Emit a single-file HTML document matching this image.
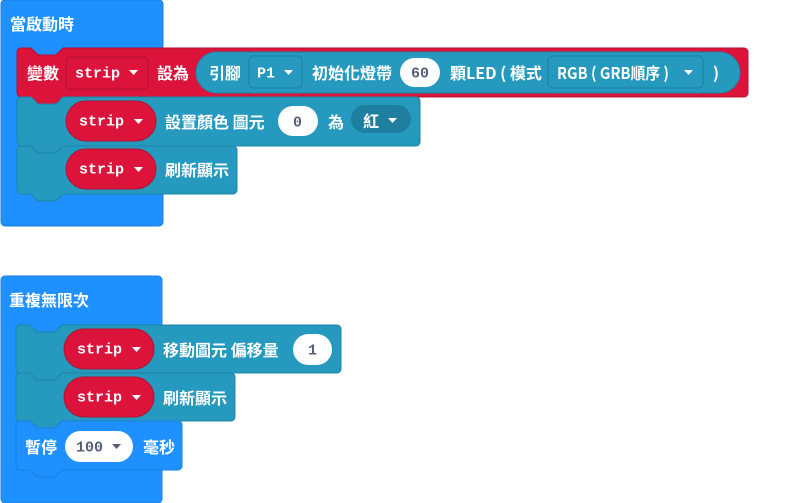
<!DOCTYPE html>
<html><head><meta charset="utf-8"><style>
html,body{margin:0;padding:0;background:#fff;}
svg{display:block}
text{font-family:"Noto Sans CJK TC","Liberation Sans",sans-serif;font-weight:bold;font-size:16px;fill:#fff;dominant-baseline:central}
.m{font-family:"Liberation Mono","Noto Sans CJK TC",monospace;font-size:15px}
.d{fill:#575e75}
</style></head><body>
<svg width="800" height="503" viewBox="0 0 800 503" xmlns="http://www.w3.org/2000/svg">
<rect x="1" y="0" width="162" height="226" rx="4" fill="#1e90ff" stroke="#1a7fe0"/>
<text x="10" y="23">當啟動時</text>
<path d="M17,52 a4,4 0 0 1 4,-4 H31 l7,7 h18 l7,-7 H744 a4,4 0 0 1 4,4 V93 a4,4 0 0 1 -4,4 H63 l-7,7 h-18 l-7,-7 H21 a4,4 0 0 1 -4,-4 Z" fill="#dc143c" stroke="#b3102f"/>
<text x="27" y="72">變數</text>
<rect x="66" y="57" width="82" height="32" rx="4" fill="#dc143c" stroke="#b3102f"/>
<text x="75" y="74" class="m">strip</text>
<path d="M129,70 h9 l-4.5,5 z" fill="#fff"/>
<text x="157" y="72">設為</text>
<rect x="196" y="52" width="544" height="41" rx="20.5" fill="#2699bf" stroke="#1f84a6"/>
<text x="209" y="72">引腳</text>
<rect x="249" y="56" width="53" height="32" rx="4" fill="#2699bf" stroke="#1e7ea0"/>
<text x="257" y="74" class="m">P1</text>
<path d="M284,70 h9 l-4.5,5 z" fill="#fff"/>
<text x="312" y="72">初始化燈帶</text>
<rect x="400" y="58" width="40" height="29" rx="14.5" fill="#fff"/>
<text x="411" y="74" class="m d">60</text>
<text x="450" y="72">顆LED ( 模式</text>
<rect x="548" y="56" width="155" height="32" rx="4" fill="#2699bf" stroke="#1e7ea0"/>
<text x="557" y="72" textLength="112" lengthAdjust="spacingAndGlyphs">RGB ( GRB順序 )</text>
<path d="M684,70 h9 l-4.5,5 z" fill="#fff"/>
<text x="713" y="72">)</text>
<path d="M17,101 a4,4 0 0 1 4,-4 H31 l7,7 h18 l7,-7 H416 a4,4 0 0 1 4,4 V142 a4,4 0 0 1 -4,4 H63 l-7,7 h-18 l-7,-7 H21 a4,4 0 0 1 -4,-4 Z" fill="#2699bf" stroke="#1f84a6"/>
<rect x="66" y="101" width="90" height="40" rx="20" fill="#dc143c" stroke="#b3102f"/>
<text x="79" y="122" class="m">strip</text>
<path d="M134,119 h9 l-4.5,5 z" fill="#fff"/>
<text x="165" y="121">設置顏色 圖元</text>
<rect x="278" y="106" width="40" height="30" rx="15" fill="#fff"/>
<text x="293" y="123" class="m d">0</text>
<text x="328" y="121">為</text>
<rect x="351" y="105" width="60" height="28" rx="14" fill="#1f7fa0"/>
<text x="363" y="120">紅</text>
<path d="M388,118 h9 l-4.5,5 z" fill="#fff"/>
<path d="M17,150 a4,4 0 0 1 4,-4 H31 l7,7 h18 l7,-7 H233 a4,4 0 0 1 4,4 V190 a4,4 0 0 1 -4,4 H63 l-7,7 h-18 l-7,-7 H21 a4,4 0 0 1 -4,-4 Z" fill="#2699bf" stroke="#1f84a6"/>
<rect x="66" y="149" width="90" height="40" rx="20" fill="#dc143c" stroke="#b3102f"/>
<text x="79" y="170" class="m">strip</text>
<path d="M134,167 h9 l-4.5,5 z" fill="#fff"/>
<text x="165" y="169">刷新顯示</text>

<rect x="1" y="276" width="161" height="227" rx="4" fill="#1e90ff" stroke="#1a7fe0"/>
<text x="9" y="299">重複無限次</text>
<path d="M16,329 a4,4 0 0 1 4,-4 H30 l7,7 h18 l7,-7 H337 a4,4 0 0 1 4,4 V369 a4,4 0 0 1 -4,4 H62 l-7,7 h-18 l-7,-7 H20 a4,4 0 0 1 -4,-4 Z" fill="#2699bf" stroke="#1f84a6"/>
<rect x="64" y="329" width="90" height="40" rx="20" fill="#dc143c" stroke="#b3102f"/>
<text x="77" y="350" class="m">strip</text>
<path d="M132,347 h9 l-4.5,5 z" fill="#fff"/>
<text x="163" y="349">移動圖元 偏移量</text>
<rect x="293" y="334" width="39" height="31" rx="15.5" fill="#fff"/>
<text x="308" y="351" class="m d">1</text>
<path d="M16,377 a4,4 0 0 1 4,-4 H30 l7,7 h18 l7,-7 H231 a4,4 0 0 1 4,4 V417 a4,4 0 0 1 -4,4 H62 l-7,7 h-18 l-7,-7 H20 a4,4 0 0 1 -4,-4 Z" fill="#2699bf" stroke="#1f84a6"/>
<rect x="64" y="377" width="90" height="40" rx="20" fill="#dc143c" stroke="#b3102f"/>
<text x="77" y="398" class="m">strip</text>
<path d="M132,395 h9 l-4.5,5 z" fill="#fff"/>
<text x="163" y="397">刷新顯示</text>
<path d="M16,425 a4,4 0 0 1 4,-4 H30 l7,7 h18 l7,-7 H178 a4,4 0 0 1 4,4 V466 a4,4 0 0 1 -4,4 H62 l-7,7 h-18 l-7,-7 H20 a4,4 0 0 1 -4,-4 Z" fill="#1e90ff" stroke="#1a7fe0"/>
<text x="25" y="446">暫停</text>
<rect x="65" y="431" width="68" height="31" rx="15.5" fill="#fff"/>
<text x="76" y="448" class="m d">100</text>
<path d="M112,444 h9 l-4.5,5 z" fill="#575e75"/>
<text x="143" y="446">毫秒</text>
</svg>
</body></html>
